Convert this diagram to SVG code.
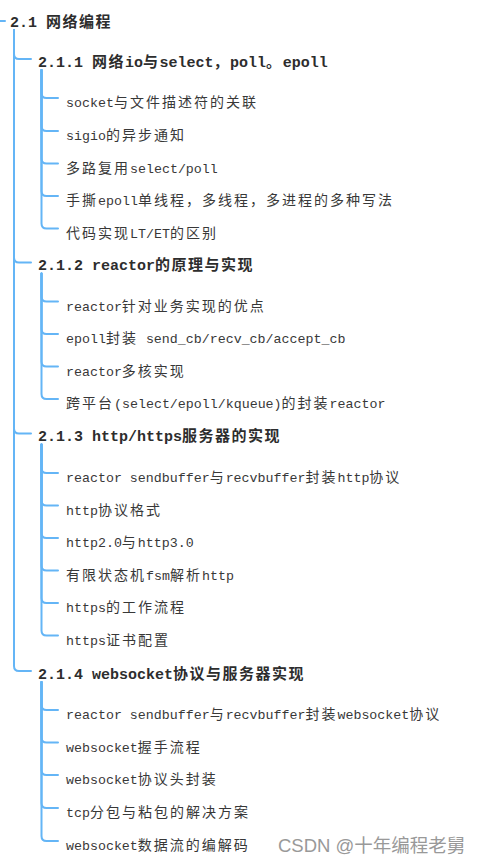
<svg xmlns="http://www.w3.org/2000/svg" width="482" height="864" viewBox="0 0 482 864">
<style>
.ln{fill:none;stroke:#64b5f6;stroke-width:2;stroke-linecap:round}
.t{font-family:"Liberation Mono","Noto Sans CJK SC",monospace;font-size:13.3px;fill:#383838}
.h{font-family:"Liberation Mono","Noto Sans CJK SC",monospace;font-size:15px;font-weight:bold;fill:#2d2d2d}
.t .c{font-family:"Noto Sans CJK SC",sans-serif;font-size:14px;letter-spacing:2px}
.h .c{font-family:"Noto Sans CJK SC",sans-serif;font-size:15px;letter-spacing:1.5px}
.wm{font-family:"Liberation Sans","Noto Sans CJK SC",sans-serif;font-size:18.5px;fill:#999}
</style>
<rect width="482" height="864" fill="#fff"/>
<g id="connectors" class="ln">
<path d="M0 21 H5"/>
<path d="M14 30 V54 Q14 59 19 59 H31"/>
<path d="M14 30 V257.5 Q14 262.5 19 262.5 H31"/>
<path d="M14 30 V428.5 Q14 433.5 19 433.5 H31"/>
<path d="M14 30 V666 Q14 671 19 671 H31"/>
<path d="M41.5 70 V93 Q41.5 98 46.5 98 H58"/>
<path d="M41.5 70 V126 Q41.5 131 46.5 131 H58"/>
<path d="M41.5 70 V158.5 Q41.5 163.5 46.5 163.5 H58"/>
<path d="M41.5 70 V191 Q41.5 196 46.5 196 H58"/>
<path d="M41.5 70 V223.5 Q41.5 228.5 46.5 228.5 H58"/>
<path d="M41.5 273.5 V296.5 Q41.5 301.5 46.5 301.5 H58"/>
<path d="M41.5 273.5 V329 Q41.5 334 46.5 334 H58"/>
<path d="M41.5 273.5 V361.5 Q41.5 366.5 46.5 366.5 H58"/>
<path d="M41.5 273.5 V394 Q41.5 399 46.5 399 H58"/>
<path d="M41.5 444.5 V468 Q41.5 473 46.5 473 H58"/>
<path d="M41.5 444.5 V500.5 Q41.5 505.5 46.5 505.5 H58"/>
<path d="M41.5 444.5 V533 Q41.5 538 46.5 538 H58"/>
<path d="M41.5 444.5 V565.5 Q41.5 570.5 46.5 570.5 H58"/>
<path d="M41.5 444.5 V598 Q41.5 603 46.5 603 H58"/>
<path d="M41.5 444.5 V630.5 Q41.5 635.5 46.5 635.5 H58"/>
<path d="M41.5 682 V705 Q41.5 710 46.5 710 H58"/>
<path d="M41.5 682 V737.5 Q41.5 742.5 46.5 742.5 H58"/>
<path d="M41.5 682 V770 Q41.5 775 46.5 775 H58"/>
<path d="M41.5 682 V803 Q41.5 808 46.5 808 H58"/>
<path d="M41.5 682 V836 Q41.5 841 46.5 841 H58"/>
</g>
<g id="root"><text class="h" x="10" y="27">2.1 <tspan class="c">网络编程</tspan></text></g>
<g id="n211"><text class="h" x="38" y="66.5">2.1.1 <tspan class="c">网络</tspan>io<tspan class="c">与</tspan>select<tspan class="c">，</tspan>poll<tspan class="c">。</tspan>epoll</text></g>
<g id="n2111"><text class="t" x="66" y="107">socket<tspan class="c">与文件描述符的关联</tspan></text></g>
<g id="n2112"><text class="t" x="66" y="140">sigio<tspan class="c">的异步通知</tspan></text></g>
<g id="n2113"><text class="t" x="66" y="172.5"><tspan class="c">多路复用</tspan>select/poll</text></g>
<g id="n2114"><text class="t" x="66" y="205"><tspan class="c">手撕</tspan>epoll<tspan class="c">单线程，多线程，多进程的多种写法</tspan></text></g>
<g id="n2115"><text class="t" x="66" y="237.5"><tspan class="c">代码实现</tspan>LT/ET<tspan class="c">的区别</tspan></text></g>
<g id="n212"><text class="h" x="38" y="270">2.1.2 reactor<tspan class="c">的原理与实现</tspan></text></g>
<g id="n2121"><text class="t" x="66" y="310.5">reactor<tspan class="c">针对业务实现的优点</tspan></text></g>
<g id="n2122"><text class="t" x="66" y="343">epoll<tspan class="c">封装</tspan> send_cb/recv_cb/accept_cb</text></g>
<g id="n2123"><text class="t" x="66" y="375.5">reactor<tspan class="c">多核实现</tspan></text></g>
<g id="n2124"><text class="t" x="66" y="408"><tspan class="c">跨平台</tspan>(select/epoll/kqueue)<tspan class="c">的封装</tspan>reactor</text></g>
<g id="n213"><text class="h" x="38" y="441">2.1.3 http/https<tspan class="c">服务器的实现</tspan></text></g>
<g id="n2131"><text class="t" x="66" y="482">reactor sendbuffer<tspan class="c">与</tspan>recvbuffer<tspan class="c">封装</tspan>http<tspan class="c">协议</tspan></text></g>
<g id="n2132"><text class="t" x="66" y="514.5">http<tspan class="c">协议格式</tspan></text></g>
<g id="n2133"><text class="t" x="66" y="547">http2.0<tspan class="c">与</tspan>http3.0</text></g>
<g id="n2134"><text class="t" x="66" y="579.5"><tspan class="c">有限状态机</tspan>fsm<tspan class="c">解析</tspan>http</text></g>
<g id="n2135"><text class="t" x="66" y="612">https<tspan class="c">的工作流程</tspan></text></g>
<g id="n2136"><text class="t" x="66" y="644.5">https<tspan class="c">证书配置</tspan></text></g>
<g id="n214"><text class="h" x="38" y="678.5">2.1.4 websocket<tspan class="c">协议与服务器实现</tspan></text></g>
<g id="n2141"><text class="t" x="66" y="719">reactor sendbuffer<tspan class="c">与</tspan>recvbuffer<tspan class="c">封装</tspan>websocket<tspan class="c">协议</tspan></text></g>
<g id="n2142"><text class="t" x="66" y="751.5">websocket<tspan class="c">握手流程</tspan></text></g>
<g id="n2143"><text class="t" x="66" y="784">websocket<tspan class="c">协议头封装</tspan></text></g>
<g id="n2144"><text class="t" x="66" y="817">tcp<tspan class="c">分包与粘包的解决方案</tspan></text></g>
<g id="n2145"><text class="t" x="66" y="850">websocket<tspan class="c">数据流的编解码</tspan></text></g>
<text class="wm" x="278" y="852">CSDN @十年编程老舅</text>
</svg>
